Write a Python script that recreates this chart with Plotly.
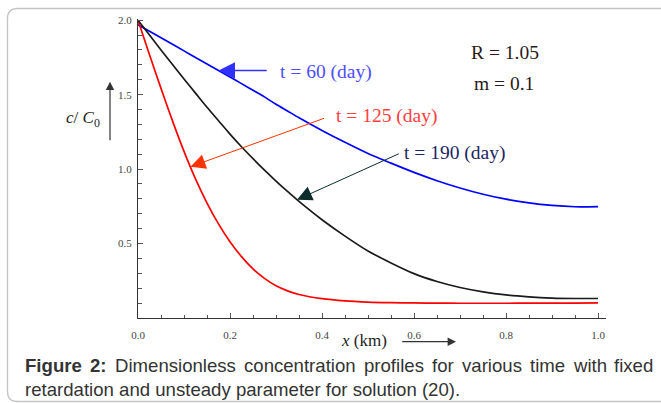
import numpy as np
import plotly.graph_objects as go

# ---------------- data ----------------
x_km = [0.0, 0.025, 0.05, 0.075, 0.1, 0.125, 0.15, 0.175, 0.2, 0.225, 0.25, 0.275,
        0.3, 0.325, 0.35, 0.4, 0.45, 0.5, 0.55, 0.6, 0.65, 0.7, 0.75, 0.8, 0.85,
        0.9, 0.95, 1.0]
c_t60 = [1.97, 1.926, 1.882, 1.838, 1.794, 1.75, 1.706, 1.662, 1.618, 1.574, 1.53, 1.485,
         1.435, 1.39, 1.345, 1.26, 1.18, 1.105, 1.04, 0.978, 0.922, 0.873, 0.831, 0.798,
         0.773, 0.756, 0.747, 0.748]
c_t125 = [2.0, 1.768, 1.542, 1.324, 1.119, 0.934, 0.772, 0.632, 0.512, 0.412, 0.33, 0.266,
          0.216, 0.182, 0.158, 0.13, 0.115, 0.107, 0.103, 0.101, 0.1, 0.099, 0.099, 0.099,
          0.1, 0.1, 0.1, 0.101]
c_t190 = [2.0, 1.90, 1.80, 1.703, 1.605, 1.51, 1.415, 1.325, 1.235, 1.15, 1.07, 0.993,
          0.92, 0.85, 0.783, 0.66, 0.55, 0.45, 0.37, 0.298, 0.245, 0.205, 0.176, 0.155,
          0.142, 0.134, 0.131, 0.131]
x_ticks = [0.0, 0.2, 0.4, 0.6, 0.8, 1.0]
x_tick_labels = ["0.0", "0.2", "0.4", "0.6", "0.8", "1.0"]
y_ticks = [0.5, 1.0, 1.5, 2.0]
y_tick_labels = ["0.5", "1.0", "1.5", "2.0"]
series_labels = ["t = 60 (day)", "t = 125 (day)", "t = 190 (day)"]
param_labels = ["R = 1.05", "m = 0.1"]
caption_line1 = ["Figure", "2:", "Dimensionless", "concentration", "profiles", "for",
                 "various", "time", "with", "fixed"]
caption_line2 = "retardation and unsteady parameter for solution (20)."

# ---------------- layout geometry (pixels) ----------------
W, H = 661, 403
ML, MR, MT, MB = 138, 55, 19, 85
PW, PH = W - ML - MR, H - MT - MB
XR = [0, PW / 460.0]
YR = [0, PH / 148.9]


def px(xp):
    return (xp - ML) / PW


def py(yp):
    return (H - MB - yp) / PH


SERIF = "Liberation Serif, Times New Roman, serif"
SANS = "Liberation Sans, Arial, sans-serif"

fig = go.Figure()
for vals, col in [(c_t60, "#0000ff"), (c_t125, "#ff0000"), (c_t190, "#1a1a1a")]:
    fig.add_trace(go.Scatter(x=x_km, y=vals, mode="lines",
                             line=dict(color=col, width=1.7, shape="spline", smoothing=0.8),
                             showlegend=False, hoverinfo="skip"))

axis_common = dict(showgrid=False, zeroline=False, showline=True, linecolor="#333333",
                   linewidth=1.3, ticks="inside", ticklen=5, tickwidth=1, tickcolor="#555555",
                   tickfont=dict(family=SERIF, size=11, color="#444444"))
fig.update_xaxes(range=XR, tickvals=x_ticks, ticktext=x_tick_labels,
                 minor=dict(dtick=0.05, tick0=0, ticks="inside", ticklen=3, tickcolor="#555555"),
                 ticklabelstandoff=7, **axis_common)
fig.update_yaxes(range=YR, tickvals=y_ticks, ticktext=y_tick_labels,
                 minor=dict(dtick=0.1, tick0=0, ticks="inside", ticklen=3.5, tickcolor="#555555"),
                 ticklabelstandoff=3, **axis_common)

ann = []
# series labels
label_specs = [(series_labels[0], 325.5, 72, "#4d4dff"),
               (series_labels[1], 386, 116, "#ff4040"),
               (series_labels[2], 454.5, 152.5, "#1c2560")]
for txt, xp, yp, col in label_specs:
    ann.append(dict(text=txt, x=px(xp), y=py(yp), xref="paper", yref="paper",
                    showarrow=False, xanchor="center", yanchor="middle",
                    font=dict(family=SERIF, size=19.5, color=col)))
for txt, xp, yp in [(param_labels[0], 504.5, 52), (param_labels[1], 503.5, 83)]:
    ann.append(dict(text=txt, x=px(xp), y=py(yp), xref="paper", yref="paper",
                    showarrow=False, xanchor="center", yanchor="middle",
                    font=dict(family=SERIF, size=19.5, color="#2b1a1a")))

# pointer arrows to curves
arrow_specs = [(0.175, c_t60, 49.7, 0, "#3030ff", 1.5, 2.2),
               (0.114, c_t125, 135, -49, "#ff3300", 1.0, 3.0),
               (0.3457, c_t190, 103.3, -46.6, "#0d2d2d", 1.0, 3.0)]
for xt, vals, axp, ayp, col, w, sz in arrow_specs:
    yt = float(np.interp(xt, x_km, vals))
    ann.append(dict(text="", x=xt, y=yt, xref="x", yref="y", ax=axp, ay=ayp,
                    showarrow=True, arrowhead=2, arrowsize=sz, arrowwidth=w,
                    arrowcolor=col))

# axis titles
ann.append(dict(text="<i>c</i>/ <i>C</i><sub>0</sub>", x=px(83), y=py(119), xref="paper",
                yref="paper", showarrow=False, xanchor="center", yanchor="middle",
                font=dict(family=SERIF, size=17, color="#222222")))
ann.append(dict(text="", x=px(110), y=py(81.7), xref="paper", yref="paper",
                ax=0, ay=60, showarrow=True, arrowhead=2, arrowsize=1.4, arrowwidth=1.2,
                arrowcolor="#333333"))
ann.append(dict(text="<i>x</i> (km)", x=px(363.5), y=py(340), xref="paper", yref="paper",
                showarrow=False, xanchor="center", yanchor="middle",
                font=dict(family=SERIF, size=17, color="#222222")))
ann.append(dict(text="", x=px(456), y=py(341.7), xref="paper", yref="paper",
                ax=-55.3, ay=0, showarrow=True, arrowhead=2, arrowsize=1.4, arrowwidth=1.2,
                arrowcolor="#333333"))

# caption: first line justified word by word using Arial/Liberation Sans metrics
REG = dict(D=722, i=222, m=833, e=556, n=556, s=500, o=556, l=222, c=500, t=278, r=333,
           a=556, p=556, f=278, v=500, u=556, w=722, h=556, x=500, d=556, y=500)
BOLD = {"F": 611, "i": 278, "g": 611, "u": 611, "r": 389, "e": 556, "2": 556, ":": 333}
CAP_FS = 18.6
widths = []
for i, wd in enumerate(caption_line1):
    table = BOLD if i < 2 else REG
    widths.append(sum(table[ch] for ch in wd) / 1000.0 * CAP_FS)
left_edge, right_edge = 23.3, 651.7
gap = (right_edge - left_edge - sum(widths)) / (len(widths) - 1)
xpos = left_edge
for i, (wd, wpx) in enumerate(zip(caption_line1, widths)):
    t = f"<b>{wd}</b>" if i < 2 else wd
    ann.append(dict(text=t, x=px(xpos), y=py(365.5), xref="paper", yref="paper",
                    showarrow=False, xanchor="left", yanchor="middle",
                    font=dict(family=SANS, size=CAP_FS, color="#333333")))
    xpos += wpx + gap
ann.append(dict(text=caption_line2, x=px(left_edge), y=py(389), xref="paper", yref="paper",
                showarrow=False, xanchor="left", yanchor="middle",
                font=dict(family=SANS, size=CAP_FS, color="#333333")))

# rounded border
x0, y0, x1, y1, r = px(7.5), py(8.5), px(700), py(401.5), 10
rx, ry = r / PW, r / PH
path = (f"M {x0 + rx},{y0} L {x1 - rx},{y0} Q {x1},{y0} {x1},{y0 - ry} "
        f"L {x1},{y1 + ry} Q {x1},{y1} {x1 - rx},{y1} L {x0 + rx},{y1} "
        f"Q {x0},{y1} {x0},{y1 + ry} L {x0},{y0 - ry} Q {x0},{y0} {x0 + rx},{y0} Z")

fig.update_layout(width=W, height=H, margin=dict(l=ML, r=MR, t=MT, b=MB, pad=0),
                  paper_bgcolor="white", plot_bgcolor="white", annotations=ann,
                  shapes=[dict(type="path", path=path, xref="paper", yref="paper",
                               line=dict(color="#c4c4c4", width=1.3), layer="below")])
fig.write_html("out.html", config={"displayModeBar": False})
